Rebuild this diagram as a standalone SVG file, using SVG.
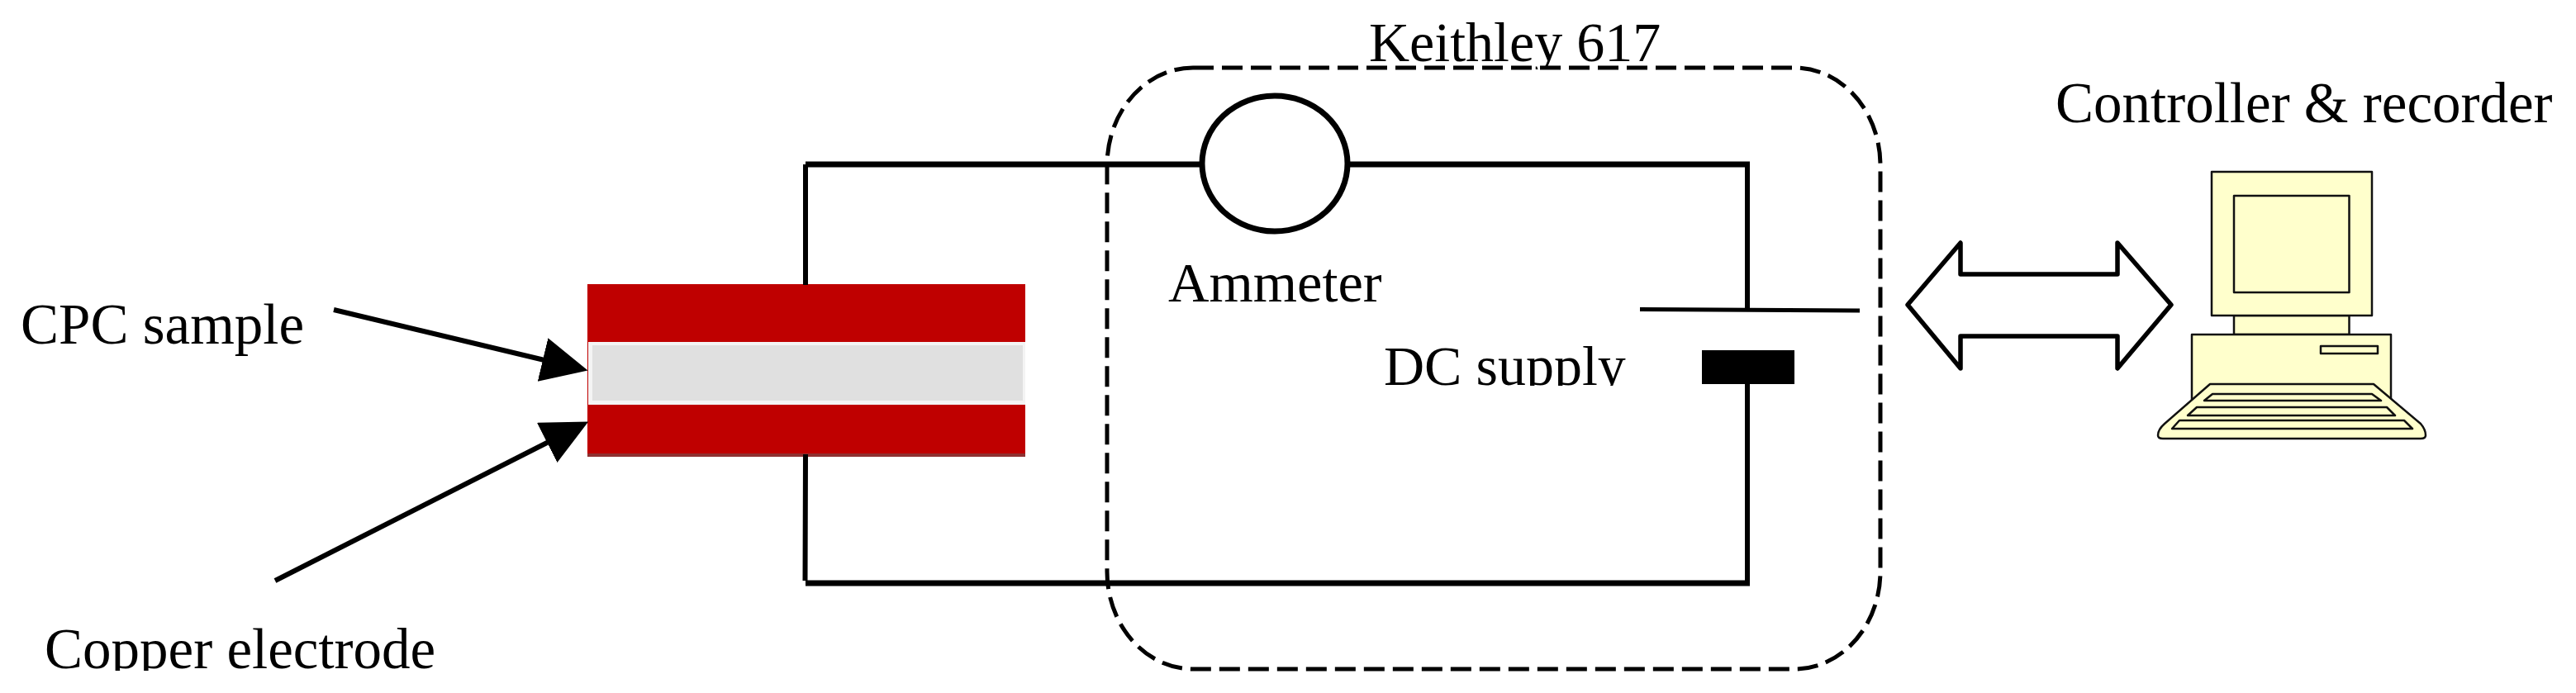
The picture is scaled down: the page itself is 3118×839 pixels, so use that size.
<svg xmlns="http://www.w3.org/2000/svg" width="3118" height="839" viewBox="0 0 3118 839">
<style>
text{font-family:"Liberation Serif","Times New Roman",serif;font-size:68px;fill:#000}
.w{fill:none;stroke:#000;stroke-width:6}
.t{fill:none;stroke:#000;stroke-width:7}
.p{fill:#ffffcc;stroke:#111;stroke-width:2.500;stroke-linejoin:round}
.l{stroke:#000;stroke-width:6;fill:none;marker-end:url(#h)}
</style>
<defs>
<marker id="h" markerUnits="userSpaceOnUse" markerWidth="58" markerHeight="56" refX="2" refY="27" orient="auto"><path d="M0,0L56,27L0,54z" fill="#000"/></marker>
<clipPath id="c1"><rect x="1640" y="0" width="400" height="84"/></clipPath>
<clipPath id="c2"><rect x="1660" y="400" width="330" height="67"/></clipPath>
<clipPath id="c3"><rect x="40" y="750" width="500" height="62"/></clipPath>
</defs>
<rect width="3118" height="839" fill="#fff"/>
<g id="sample">
<rect x="711" y="344" width="530" height="209" fill="#bf0000"/>
<rect x="711" y="549" width="530" height="4" fill="#8f3030"/>
<rect x="712" y="414" width="529" height="76" fill="#f4f4f4"/>
<rect x="717" y="418" width="521" height="67" fill="#e0e0e0"/>
</g>
<g id="connectors">
<path class="w" d="M975,199V345M975,550L974.500,703"/>
<path class="t" d="M975,199H1454M1632,199H2118M975,706H2118"/>
<path class="w" d="M2115,199V375M2115,465V706"/>
<path class="l" d="M404,375L659,436"/>
<path class="l" d="M333,703L664,535"/>
</g>
<g id="keithley">
<rect x="1340" y="82" width="936" height="728" rx="104" ry="118" fill="none" stroke="#000" stroke-width="5" stroke-dasharray="25 10"/>
<text x="1657" y="74" clip-path="url(#c1)">Keithley 617</text>
</g>
<g id="ammeter">
<ellipse cx="1543" cy="198" rx="88" ry="82" fill="#fff" stroke="#000" stroke-width="7"/>
<text x="1414" y="365" style="font-size:68.500px">Ammeter</text>
</g>
<g id="dc-supply">
<path d="M1985,374.500L2251,376" fill="none" stroke="#000" stroke-width="5"/>
<rect x="2060" y="424" width="112" height="41" fill="#000"/>
<text x="1675" y="466" clip-path="url(#c2)">DC supply</text>
</g>
<g id="link">
<path d="M2309,369L2373,294V332H2563V294L2628,369L2563,446V407H2373V446z" fill="#fff" stroke="#000" stroke-width="5.500" stroke-linejoin="round"/>
</g>
<g id="computer">
<rect class="p" x="2704" y="382" width="139.500" height="23"/>
<rect class="p" x="2653" y="405" width="241" height="95"/>
<rect class="p" x="2809" y="419" width="69" height="9"/>
<rect class="p" x="2677" y="208" width="194" height="174"/>
<rect class="p" x="2704" y="237" width="139.500" height="117"/>
<path class="p" d="M2675,465H2873L2930,513Q2936,520 2936,527Q2936,531 2930,531H2618Q2612,531 2612,527Q2612,520 2620,513z"/>
<path class="p" d="M2678,477H2871L2882,485H2668z"/>
<path class="p" d="M2659,493H2889L2899,503H2648z"/>
<path class="p" d="M2638,509H2910L2920,519H2629z"/>
<text x="2488" y="148" style="font-size:69px">Controller &amp; recorder</text>
</g>
<g id="labels">
<text x="25" y="416" style="font-size:69px">CPC sample</text>
<text x="54" y="809" clip-path="url(#c3)" style="font-size:69px">Copper electrode</text>
</g>
</svg>
